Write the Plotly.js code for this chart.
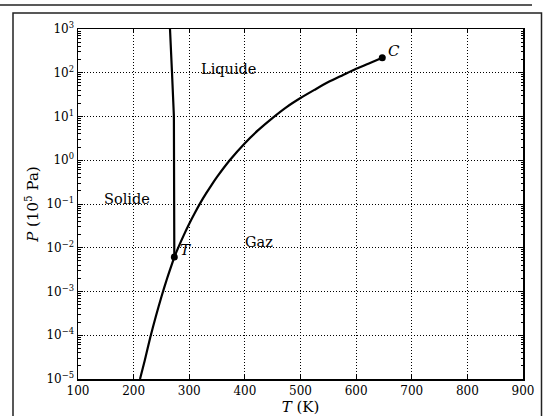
<!DOCTYPE html>
<html>
<head>
<meta charset="utf-8">
<script src="https://cdn.plot.ly/plotly-3.0.1.min.js"></script>
<style>html,body{margin:0;padding:0;background:#fff;}#chart{width:543px;height:416px;}</style>
</head>
<body>
<div id="chart"></div>
<script>
// Sublimation curve (solid / gas)
const subT = [211.5, 220, 230, 240, 250, 260, 273.16];
const subP = [1.0e-5, 2.66e-5, 8.95e-5, 2.73e-4, 7.6e-4, 1.96e-3, 6.11e-3];
// Vaporisation curve (liquid / gas), triple point to critical point
const vapT = [273.16, 280, 290, 300, 310, 320, 330, 340, 350, 373.15, 400, 425, 450, 475, 500, 525, 550, 575, 600, 625, 647];
const vapP = [6.11e-3, 9.92e-3, 0.0192, 0.0354, 0.0623, 0.106, 0.172, 0.271, 0.416, 1.013, 2.46, 5.0, 9.32, 16.4, 26.4, 40.5, 61.2, 87.0, 123.5, 168.0, 220.6];
// Fusion curve (solid / liquid)
const fusT = [273.16, 273.16, 272.4, 269.0, 265.4];
const fusP = [6.11e-3, 0.5, 10, 100, 1000];
// Special points
const ptNames = ['T', 'C'];
const ptT = [273.16, 647];
const ptP = [6.11e-3, 220.6];
// Region labels
const regionNames = ['Liquide', 'Solide', 'Gaz'];
const regionT = [370, 188, 426];
const regionP = [120, 0.13, 0.0134];
// Axis ticks
const xTicks = [100, 200, 300, 400, 500, 600, 700, 800, 900];
const yTickVals = [1e-5, 1e-4, 1e-3, 1e-2, 1e-1, 1, 10, 100, 1000];
const yTickText = ['10<sup>−5</sup>', '10<sup>−4</sup>', '10<sup>−3</sup>', '10<sup>−2</sup>', '10<sup>−1</sup>', '10<sup>0</sup>', '10<sup>1</sup>', '10<sup>2</sup>', '10<sup>3</sup>'];

const FONT = 'DejaVu Serif, Liberation Serif, serif';
const lineStyle = {color: '#000', width: 2.2, shape: 'spline', smoothing: 0.6};

const traces = [
  {x: subT, y: subP, mode: 'lines', line: lineStyle, hoverinfo: 'skip'},
  {x: vapT, y: vapP, mode: 'lines', line: lineStyle, hoverinfo: 'skip'},
  {x: fusT, y: fusP, mode: 'lines', line: {color: '#000', width: 2.2}, hoverinfo: 'skip'},
  {x: ptT, y: ptP, mode: 'markers', marker: {color: '#000', size: 7}, hoverinfo: 'skip'}
];

const annotations = [];
regionNames.forEach((n, i) => annotations.push({
  x: regionT[i], y: Math.log10(regionP[i]), xref: 'x', yref: 'y', text: n,
  showarrow: false, font: {family: FONT, size: 14.5, color: '#000'}
}));
ptNames.forEach((n, i) => annotations.push({
  x: ptT[i], y: Math.log10(ptP[i]), xref: 'x', yref: 'y', text: '<i>' + n + '</i>',
  showarrow: false, xanchor: 'left', yanchor: 'middle', xshift: 4, yshift: 7,
  font: {family: FONT, size: 15, color: '#000'}
}));

const L = 78, R = 20, T = 29, B = 37, W = 543, H = 416;
const pw = W - L - R, ph = H - T - B;
const px = v => (v - L) / pw;
const py = v => (H - B - v) / ph;

const shapes = [
  {type: 'line', xref: 'paper', yref: 'paper', x0: px(0), x1: px(532), y0: py(5), y1: py(5), line: {color: '#222', width: 1.5}},
  {type: 'rect', xref: 'paper', yref: 'paper', x0: px(13), x1: px(541.5), y0: py(13), y1: py(430), line: {color: '#222', width: 1.5}}
];

const layout = {
  width: W, height: H,
  margin: {l: L, r: R, t: T, b: B},
  paper_bgcolor: '#fff', plot_bgcolor: '#fff',
  showlegend: false,
  font: {family: FONT, color: '#000', size: 12},
  xaxis: {
    range: [100, 900], tickvals: xTicks, ticktext: xTicks.map(String),
    showline: true, linecolor: '#000', linewidth: 1.5, mirror: 'ticks',
    ticks: 'inside', ticklen: 4, tickcolor: '#000',
    showgrid: true, gridcolor: '#000', griddash: '1px,2px', gridwidth: 1,
    zeroline: false, tickfont: {family: FONT, size: 12, color: '#000'},
    title: {text: '<i>T</i> (K)', font: {family: FONT, size: 15, color: '#000'}, standoff: 4}
  },
  yaxis: {
    type: 'log', range: [-5, 3], tickvals: yTickVals, ticktext: yTickText,
    showline: true, linecolor: '#000', linewidth: 1.5, mirror: 'ticks',
    ticks: 'inside', ticklen: 5, tickcolor: '#000',
    minor: {ticks: 'inside', ticklen: 2.5, tickcolor: '#000', tickwidth: 1, dtick: 'D1', showgrid: false},
    showgrid: true, gridcolor: '#000', griddash: '1px,2px', gridwidth: 1,
    zeroline: false, tickfont: {family: FONT, size: 12, color: '#000'},
    title: {text: '<i>P</i> (10<sup>5</sup> Pa)', font: {family: FONT, size: 15, color: '#000'}, standoff: 4}
  },
  annotations: annotations,
  shapes: shapes
};

Plotly.newPlot('chart', traces, layout, {staticPlot: true, displayModeBar: false});
</script>
</body>
</html>
